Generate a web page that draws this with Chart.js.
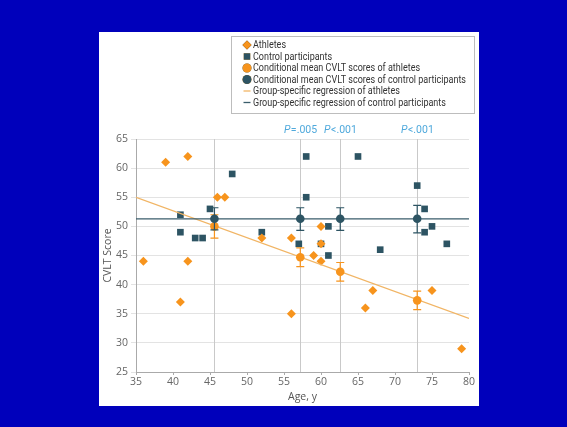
<!DOCTYPE html>
<html>
<head>
<meta charset="utf-8">
<script src="https://cdn.jsdelivr.net/npm/chart.js@4.4.1/dist/chart.umd.min.js"></script>
<style>
  html, body { margin: 0; padding: 0; background: #0000bb; }
  canvas { display: block; }
</style>
</head>
<body>
<canvas id="c" width="567" height="427"></canvas>
<script>
// Individual CVLT scores by age
const athleteAges   = [36, 39, 41, 42, 42, 46, 47, 52, 56, 56, 59, 60, 60, 60, 66, 67, 75, 79];
const athleteScores = [44, 61, 37, 62, 44, 55, 55, 48, 48, 35, 45, 50, 47, 44, 36, 39, 39, 29];
const controlAges   = [41, 41, 43, 44, 45, 48, 52, 57, 58, 58, 60, 61, 61, 65, 68, 73, 74, 74, 75, 77];
const controlScores = [52, 49, 48, 48, 53, 59, 49, 47, 62, 55, 47, 50, 45, 62, 46, 57, 53, 49, 50, 47];

// Conditional means at selected ages, with 95% CI bounds
const meanAges        = [45.6, 57.2, 62.6, 73.0];
const athleteMeans    = [50.0, 44.7, 42.2, 37.3];
const athleteMeanLow  = [48.0, 43.1, 40.6, 35.7];
const athleteMeanHigh = [52.0, 46.3, 43.8, 38.9];
const controlMeans    = [51.3, 51.3, 51.3, 51.3];
const controlMeanLow  = [49.4, 49.3, 49.3, 48.9];
const controlMeanHigh = [53.2, 53.2, 53.2, 53.6];
const pLabels         = ['', '=.005', '<.001', '<.001'];

// Group-specific regression lines (endpoints)
const fitAges       = [35, 80];
const athleteFit    = [55.0, 34.2];
const controlFit    = [51.3, 51.3];

// Axis ticks
const xTicks = [35, 40, 45, 50, 55, 60, 65, 70, 75, 80];
const yTicks = [25, 30, 35, 40, 45, 50, 55, 60, 65];

const FONT = '"Open Sans", sans-serif';
const LEGEND_FONT = 'Roboto, "Open Sans", sans-serif';
const ORANGE = '#f7941d';
const TEAL = '#2d5463';

const pts = (xs, ys) => xs.map((x, i) => ({ x, y: ys[i] }));

const backgroundPlugin = {
  id: 'panel',
  beforeDraw(chart) {
    const ctx = chart.ctx;
    ctx.save();
    ctx.fillStyle = '#0000bb';
    ctx.fillRect(0, 0, chart.width, chart.height);
    ctx.fillStyle = '#ffffff';
    ctx.fillRect(99, 32, 380, 374);
    ctx.restore();
  }
};

const refLinesPlugin = {
  id: 'refLines',
  beforeDatasetsDraw(chart) {
    const { ctx, chartArea, scales } = chart;
    ctx.save();
    ctx.strokeStyle = '#c9c9c9';
    ctx.lineWidth = 1;
    meanAges.forEach(a => {
      const x = Math.round(scales.x.getPixelForValue(a)) + 0.5;
      ctx.beginPath();
      ctx.moveTo(x, chartArea.top);
      ctx.lineTo(x, chartArea.bottom);
      ctx.stroke();
    });
    ctx.restore();
  },
  afterDraw(chart) {
    const { ctx, chartArea, scales } = chart;
    ctx.save();
    ctx.fillStyle = '#4fa9dc';
    ctx.textBaseline = 'middle';
    ctx.textAlign = 'left';
    meanAges.forEach((a, i) => {
      if (!pLabels[i]) return;
      const cx = scales.x.getPixelForValue(a);
      ctx.font = 'italic 10.5px ' + LEGEND_FONT;
      const wP = ctx.measureText('P').width;
      ctx.font = '10.5px ' + LEGEND_FONT;
      const wR = ctx.measureText(pLabels[i]).width;
      const x0 = cx - (wP + wR) / 2;
      ctx.font = 'italic 10.5px ' + LEGEND_FONT;
      ctx.fillText('P', x0, chartArea.top - 8.5);
      ctx.font = '10.5px ' + LEGEND_FONT;
      ctx.fillText(pLabels[i], x0 + wP + 0.5, chartArea.top - 8.5);
    });
    ctx.restore();
  }
};

const errorBarPlugin = {
  id: 'errorBars',
  beforeDatasetDraw(chart, args) {
    const ds = chart.data.datasets[args.index];
    if (!ds.errLow) return;
    const { ctx, scales } = chart;
    ctx.save();
    ctx.strokeStyle = ds.borderColor;
    ctx.lineWidth = 1.2;
    ds.data.forEach((p, i) => {
      const x = scales.x.getPixelForValue(p.x);
      const yl = scales.y.getPixelForValue(ds.errLow[i]);
      const yh = scales.y.getPixelForValue(ds.errHigh[i]);
      ctx.beginPath();
      ctx.moveTo(x, yl); ctx.lineTo(x, yh);
      ctx.moveTo(x - 4, yl); ctx.lineTo(x + 4, yl);
      ctx.moveTo(x - 4, yh); ctx.lineTo(x + 4, yh);
      ctx.stroke();
    });
    ctx.restore();
  }
};

const legendPlugin = {
  id: 'boxLegend',
  afterDraw(chart) {
    const ctx = chart.ctx;
    const rows = [0, 1, 2, 3, 4, 5].map(r => chart.data.datasets.find(d => d.legendRow === r));
    ctx.save();
    ctx.strokeStyle = '#bdbdbd';
    ctx.lineWidth = 1;
    ctx.strokeRect(231.5, 36.5, 243, 77);
    ctx.font = '10px ' + LEGEND_FONT;
    ctx.textBaseline = 'middle';
    ctx.textAlign = 'left';
    // condense labels so the widest one spans 213px
    const widest = Math.max(...rows.map(d => ctx.measureText(d.label).width));
    const sx = Math.min(1, 213 / widest);
    rows.forEach((ds, row) => {
      const y = 45 + row * 11.5;
      const mx = 247;
      if (ds.showLine) {
        ctx.strokeStyle = ds.borderColor;
        ctx.lineWidth = 1.3;
        ctx.beginPath();
        ctx.moveTo(mx - 3.5, y); ctx.lineTo(mx + 3.5, y);
        ctx.stroke();
      } else {
        Chart.helpers.drawPoint(ctx, {
          pointStyle: ds.pointStyle,
          radius: ds.legendRadius,
          rotation: 0,
          borderWidth: 0
        }, mx, y);
        ctx.fillStyle = ds.backgroundColor;
        ctx.fill();
      }
      ctx.save();
      ctx.translate(253, y + 0.5);
      ctx.scale(sx, 1);
      ctx.fillStyle = '#333333';
      ctx.fillText(ds.label, 0, 0);
      ctx.restore();
    });
    ctx.restore();
  }
};

new Chart(document.getElementById('c'), {
  type: 'scatter',
  data: {
    datasets: [
      {
        label: 'Conditional mean CVLT scores of control participants',
        legendRow: 3, legendRadius: 4.5,
        data: pts(meanAges, controlMeans),
        errLow: controlMeanLow, errHigh: controlMeanHigh,
        pointStyle: 'circle', pointRadius: 4.3, borderWidth: 0,
        backgroundColor: TEAL, borderColor: TEAL, order: 0
      },
      {
        label: 'Conditional mean CVLT scores of athletes',
        legendRow: 2, legendRadius: 4.5,
        data: pts(meanAges, athleteMeans),
        errLow: athleteMeanLow, errHigh: athleteMeanHigh,
        pointStyle: 'circle', pointRadius: 4.3, borderWidth: 0,
        backgroundColor: ORANGE, borderColor: ORANGE, order: 1
      },
      {
        label: 'Group-specific regression of control participants',
        legendRow: 5,
        data: pts(fitAges, controlFit),
        showLine: true, pointRadius: 0, borderWidth: 1.3,
        borderColor: '#3a5d6b', backgroundColor: '#3a5d6b', order: 2
      },
      {
        label: 'Group-specific regression of athletes',
        legendRow: 4,
        data: pts(fitAges, athleteFit),
        showLine: true, pointRadius: 0, borderWidth: 1.3,
        borderColor: '#f1b565', backgroundColor: '#f1b565', order: 3
      },
      {
        label: 'Athletes',
        legendRow: 0, legendRadius: 4.5,
        data: pts(athleteAges, athleteScores),
        pointStyle: 'rectRot', pointRadius: 4.5, borderWidth: 0,
        backgroundColor: ORANGE, borderColor: ORANGE, order: 4
      },
      {
        label: 'Control participants',
        legendRow: 1, legendRadius: 4.6,
        data: pts(controlAges, controlScores),
        pointStyle: 'rect', pointRadius: 4.7, borderWidth: 0,
        backgroundColor: TEAL, borderColor: TEAL, order: 5
      }
    ]
  },
  options: {
    responsive: false,
    animation: false,
    devicePixelRatio: 1,
    events: [],
    layout: { padding: { left: 99, right: 98, top: 139, bottom: 21 } },
    plugins: { legend: { display: false }, tooltip: { enabled: false } },
    scales: {
      x: {
        type: 'linear', min: 35, max: 80,
        afterBuildTicks: s => { s.ticks = xTicks.map(v => ({ value: v })); },
        afterFit: s => { s.height = 34; },
        ticks: { color: '#666', font: { family: FONT, size: 10.5 }, padding: 1 },
        grid: { drawOnChartArea: false, drawTicks: true, tickLength: 3, color: '#aaaaaa' },
        border: { color: '#aaaaaa' },
        title: { display: true, text: 'Age, y', color: '#555', font: { family: FONT, size: 10.5 }, padding: { top: 0, bottom: 3 } }
      },
      y: {
        type: 'linear', min: 25, max: 65,
        afterBuildTicks: s => { s.ticks = yTicks.map(v => ({ value: v })); },
        afterFit: s => { s.width = 37; },
        ticks: { color: '#666', font: { family: FONT, size: 10.5 }, padding: 3 },
        grid: { color: '#e3e3e3', tickLength: 5 },
        border: { color: '#aaaaaa' },
        title: { display: true, text: 'CVLT Score', color: '#555', font: { family: FONT, size: 10.5 }, padding: { top: 3, bottom: 2 } }
      }
    }
  },
  plugins: [backgroundPlugin, refLinesPlugin, errorBarPlugin, legendPlugin]
});
</script>
</body>
</html>
